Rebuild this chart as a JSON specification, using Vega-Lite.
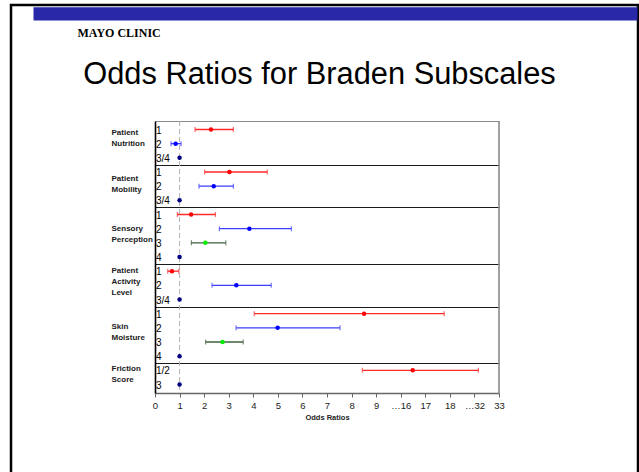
{
  "$schema": "https://vega.github.io/schema/vega-lite/v6.json",
  "autosize": "none",
  "width": 627,
  "height": 467,
  "padding": {"left": 11, "top": 5, "right": 1, "bottom": 0},
  "background": "#ffffff",
  "config": {
    "view": {"stroke": "#000000", "strokeWidth": 2.5, "strokeDash": [1094, 627, 467], "fill": "#ffffff"},
    "font": "Liberation Sans"
  },
  "datasets": {
    "or": [
      {"group": "Patient Nutrition", "level": "1", "row": 0, "cat": "a", "or": 2.28, "lo": 1.63, "hi": 3.19},
      {"group": "Patient Nutrition", "level": "2", "row": 1, "cat": "b", "or": 0.84, "lo": 0.65, "hi": 1.06},
      {"group": "Patient Nutrition", "level": "3/4", "row": 2, "cat": "r", "or": 1, "lo": null, "hi": null},
      {"group": "Patient Mobility", "level": "1", "row": 3, "cat": "a", "or": 3.03, "lo": 2.02, "hi": 4.57},
      {"group": "Patient Mobility", "level": "2", "row": 4, "cat": "b", "or": 2.39, "lo": 1.79, "hi": 3.19},
      {"group": "Patient Mobility", "level": "3/4", "row": 5, "cat": "r", "or": 1, "lo": null, "hi": null},
      {"group": "Sensory Perception", "level": "1", "row": 6, "cat": "a", "or": 1.47, "lo": 0.91, "hi": 2.46},
      {"group": "Sensory Perception", "level": "2", "row": 7, "cat": "b", "or": 3.84, "lo": 2.62, "hi": 5.55},
      {"group": "Sensory Perception", "level": "3", "row": 8, "cat": "c", "or": 2.05, "lo": 1.48, "hi": 2.88},
      {"group": "Sensory Perception", "level": "4", "row": 9, "cat": "r", "or": 1, "lo": null, "hi": null},
      {"group": "Patient Activity Level", "level": "1", "row": 10, "cat": "a", "or": 0.69, "lo": 0.52, "hi": 0.97},
      {"group": "Patient Activity Level", "level": "2", "row": 11, "cat": "b", "or": 3.31, "lo": 2.32, "hi": 4.73},
      {"group": "Patient Activity Level", "level": "3/4", "row": 12, "cat": "r", "or": 1, "lo": null, "hi": null},
      {"group": "Skin Moisture", "level": "1", "row": 13, "cat": "a", "or": 8.51, "lo": 4.04, "hi": 17.77},
      {"group": "Skin Moisture", "level": "2", "row": 14, "cat": "b", "or": 4.99, "lo": 3.3, "hi": 7.53},
      {"group": "Skin Moisture", "level": "3", "row": 15, "cat": "c", "or": 2.75, "lo": 2.06, "hi": 3.59},
      {"group": "Skin Moisture", "level": "4", "row": 16, "cat": "r", "or": 1, "lo": null, "hi": null},
      {"group": "Friction Score", "level": "1/2", "row": 17, "cat": "a", "or": 16.49, "lo": 8.44, "hi": 32.16},
      {"group": "Friction Score", "level": "3", "row": 18, "cat": "r", "or": 1, "lo": null, "hi": null}
    ]
  },
  "layer": [
    {
      "data": {"name": "or"},
      "layer": [
        {
          "data": {"values": [{"ref": 1}]},
          "mark": {"type": "rule", "strokeDash": [5, 3], "color": "#b4b4b4", "strokeWidth": 1},
          "encoding": {
            "x": {
              "field": "ref",
              "type": "quantitative",
              "scale": {"domain": [0, 9, 16, 18, 32, 33], "range": [144, 365.14, 389.71, 438.86, 463.43, 488], "nice": false, "zero": false, "clamp": false},
              "axis": {
                "orient": "bottom",
                "offset": -79,
                "values": [0, 1, 2, 3, 4, 5, 6, 7, 8, 9, 16, 17, 18, 32, 33],
                "labelExpr": "datum.value == 16 ? '…16' : datum.value == 32 ? '…32' : datum.label",
                "labelFont": "Liberation Sans",
                "labelFontSize": 9.5,
                "labelColor": "#222222",
                "labelPadding": 3,
                "labelOverlap": false,
                "labelFlush": false,
                "labelBound": false,
                "tickSize": 4,
                "tickColor": "#666666",
                "tickWidth": 1,
                "domainColor": "#666666",
                "domainWidth": 1.6,
                "grid": false,
                "title": "Odds Ratios",
                "titleFont": "Liberation Sans",
                "titleFontSize": 7.5,
                "titleFontWeight": "bold",
                "titleColor": "#222222",
                "titlePadding": 4
              }
            },
            "y": {"datum": -0.6, "type": "quantitative"},
            "y2": {"datum": 18.6}
          }
        },
        {
          "data": {"values": [{"edge": 33}]},
          "mark": {"type": "rule", "color": "#8a8a8a", "strokeWidth": 1.6},
          "encoding": {
            "x": {"field": "edge", "type": "quantitative"},
            "y": {"datum": -0.6, "type": "quantitative"},
            "y2": {"datum": 18.6}
          }
        },
        {
          "transform": [{"filter": "isValid(datum.lo)"}],
          "mark": {"type": "rule", "strokeWidth": 1.3},
          "encoding": {
            "x": {"field": "lo", "type": "quantitative"},
            "x2": {"field": "hi"},
            "y": {
              "field": "row",
              "type": "quantitative",
              "scale": {"domain": [-0.6, 18.6], "range": [116, 388], "nice": false, "zero": false},
              "axis": {
                "orient": "left",
                "offset": -144,
                "values": [-0.6, 0.23, 2.5, 3.46, 5.5, 6.96, 9.5, 9.95, 12.5, 13.94, 16.5, 16.89],
                "labelExpr": "(datum.value < 0 || datum.value % 1 == 0.5) ? '' : datum.value < 2 ? ['Patient','Nutrition'] : datum.value < 5 ? ['Patient','Mobility'] : datum.value < 9 ? ['Sensory','Perception'] : datum.value < 12 ? ['Patient','Activity','Level'] : datum.value < 16 ? ['Skin','Moisture'] : ['Friction','Score']",
                "labelAlign": "left",
                "labelBaseline": "middle",
                "labelPadding": 44,
                "labelFont": "Liberation Sans",
                "labelFontWeight": "bold",
                "labelFontSize": 8,
                "labelLineHeight": 11,
                "labelColor": "#1a1a1a",
                "labelOverlap": false,
                "labelBound": false,
                "labelFlush": false,
                "ticks": false,
                "tickSize": 0,
                "domainColor": "#000000",
                "domainWidth": 1.6,
                "grid": true,
                "gridColor": {"condition": {"test": "datum.value < 0", "value": "#8a8a8a"}, "value": "#1a1a1a"},
                "gridOpacity": {"condition": {"test": "datum.value < 0 || datum.value % 1 == 0.5", "value": 1}, "value": 0},
                "gridWidth": 1.2,
                "title": "Odds Ratios for Braden Subscales",
                "titleAngle": 0,
                "titleX": 164,
                "titleY": 78,
                "titleAlign": "center",
                "titleBaseline": "alphabetic",
                "titleFont": "Liberation Sans",
                "titleFontSize": 30.8,
                "titleFontWeight": "normal",
                "titleColor": "#000000"
              }
            },
            "color": {"field": "cat", "type": "nominal", "scale": {"domain": ["a", "b", "c"], "range": ["#ff2a2a", "#3d3dff", "#3f5f3f"]}, "legend": null}
          }
        },
        {
          "transform": [{"filter": "isValid(datum.lo)"}],
          "mark": {"type": "tick", "orient": "vertical", "size": 5, "thickness": 1.2},
          "encoding": {
            "x": {"field": "lo", "type": "quantitative"},
            "y": {"field": "row", "type": "quantitative"},
            "color": {"field": "cat", "type": "nominal", "legend": null}
          }
        },
        {
          "transform": [{"filter": "isValid(datum.hi)"}],
          "mark": {"type": "tick", "orient": "vertical", "size": 5, "thickness": 1.2},
          "encoding": {
            "x": {"field": "hi", "type": "quantitative"},
            "y": {"field": "row", "type": "quantitative"},
            "color": {"field": "cat", "type": "nominal", "legend": null}
          }
        },
        {
          "mark": {"type": "point", "filled": true, "size": 20, "opacity": 1, "shape": "circle"},
          "encoding": {
            "x": {"field": "or", "type": "quantitative"},
            "y": {"field": "row", "type": "quantitative"},
            "fill": {"field": "cat", "type": "nominal", "scale": {"domain": ["a", "b", "c", "r"], "range": ["#ff0000", "#0000ff", "#00ee00", "#000080"]}, "legend": null}
          }
        },
        {
          "mark": {"type": "text", "align": "left", "baseline": "middle", "dx": 1, "dy": 1, "fontSize": 10, "font": "Liberation Sans", "color": "#000000"},
          "encoding": {
            "x": {"datum": 0, "type": "quantitative"},
            "y": {"field": "row", "type": "quantitative"},
            "text": {"field": "level"}
          }
        }
      ]
    },
    {
      "data": {"values": []},
      "mark": {"type": "rule"},
      "encoding": {
        "x": {
          "field": "h",
          "type": "quantitative",
          "scale": {"domain": [0, 1], "range": [22, 626], "nice": false, "zero": false},
          "axis": {
            "orient": "top",
            "offset": -8.4,
            "domain": true,
            "domainColor": "#2828a8",
            "domainWidth": 13.3,
            "domainCap": "butt",
            "ticks": false,
            "labels": false,
            "grid": false,
            "title": "MAYO CLINIC",
            "titleX": 66,
            "titleY": 19,
            "titleAngle": 0,
            "titleAlign": "left",
            "titleBaseline": "middle",
            "titleFont": "Liberation Serif",
            "titleFontSize": 12,
            "titleFontWeight": "bold",
            "titleColor": "#000000"
          }
        }
      }
    }
  ],
  "resolve": {"scale": {"x": "independent"}, "axis": {"x": "independent"}}
}
